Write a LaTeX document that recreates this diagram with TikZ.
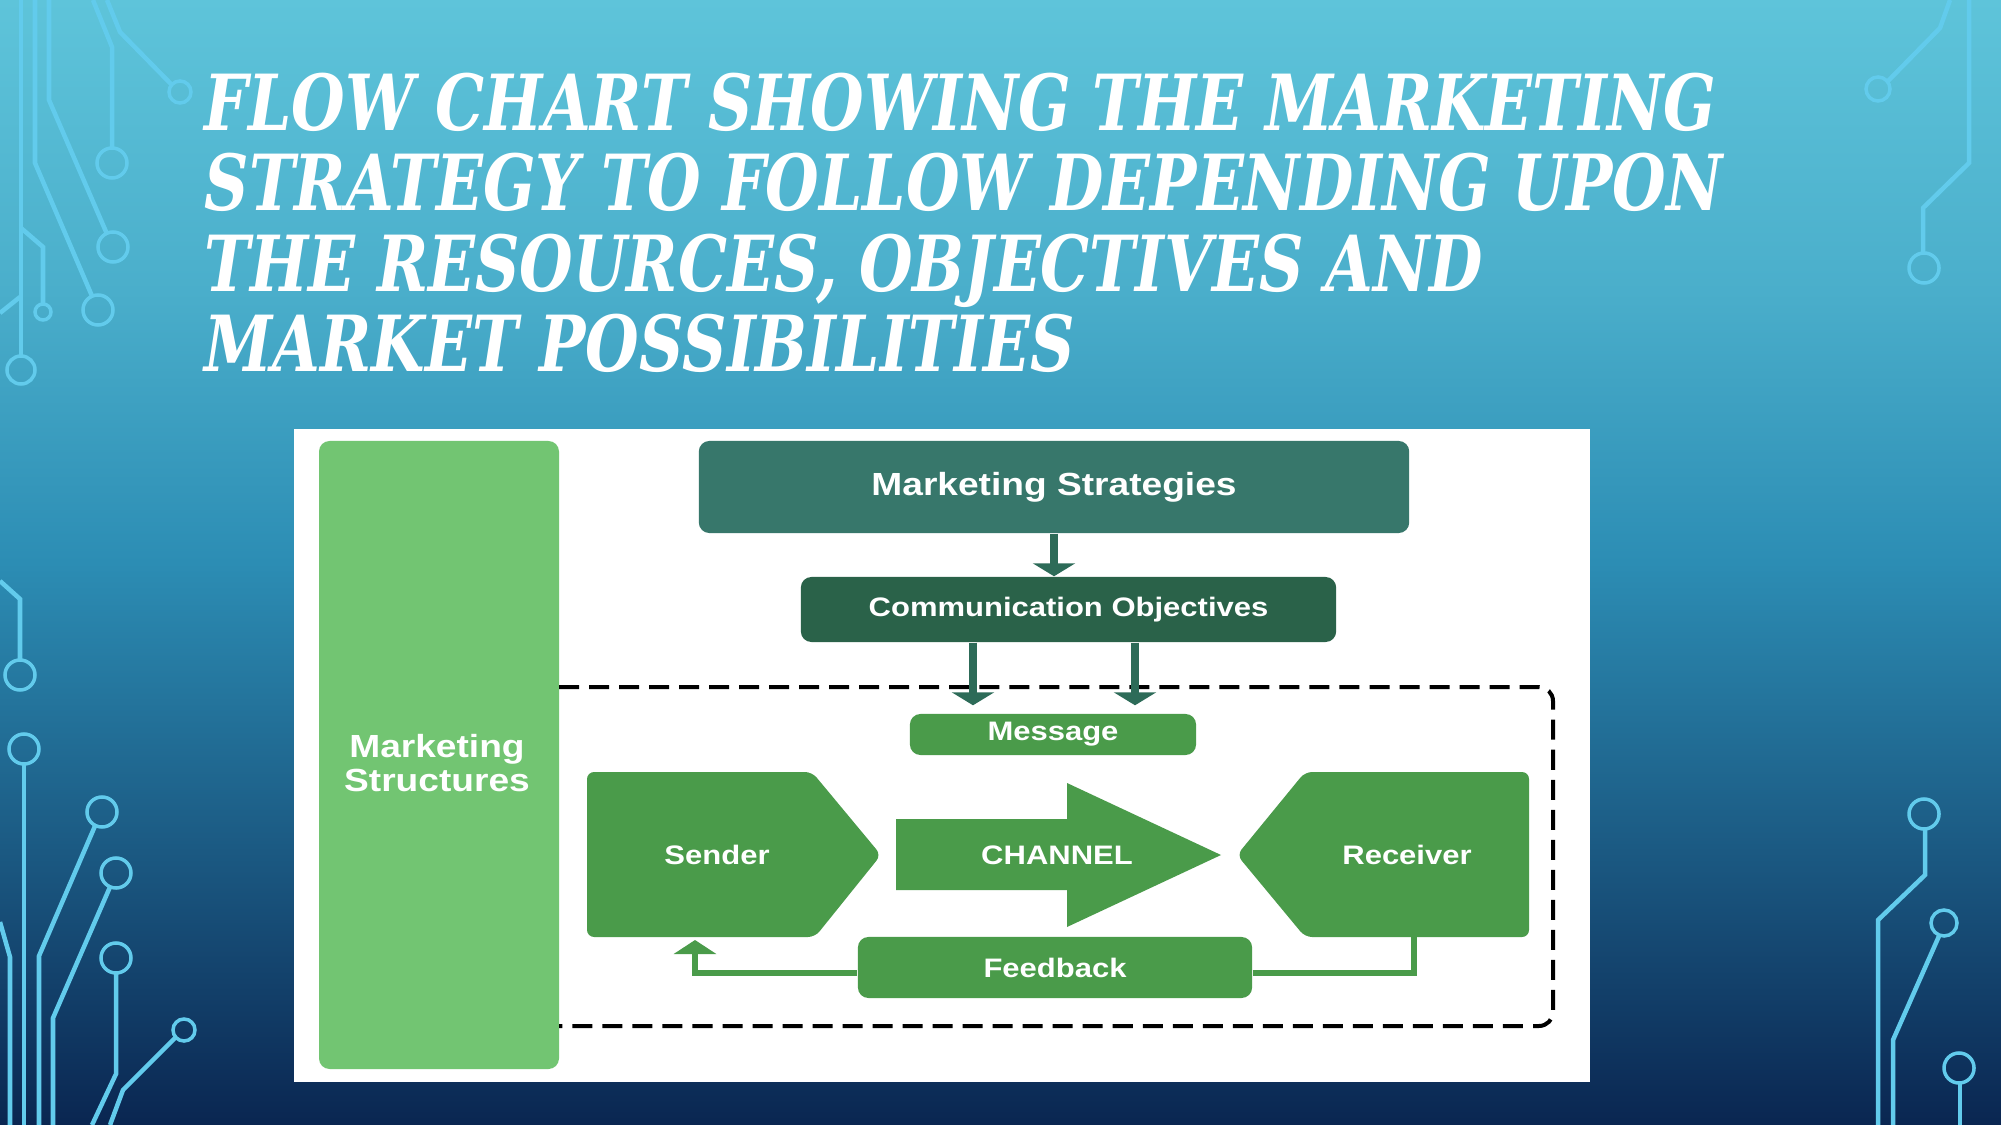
\documentclass[tikz,border=0pt]{standalone}
\usepackage{fontspec}
\usepackage{xcolor}
\usepackage{tikz}
\usetikzlibrary{arrows.meta}
\setmainfont{Liberation Sans}
\newfontfamily\boxFont[FakeStretch=1.16]{Liberation Sans}
\newfontfamily\titleFont[FakeStretch=0.796]{DejaVu Serif}
\definecolor{skyTop}{HTML}{5EC4DA}
\definecolor{skyMid}{HTML}{2C8DB4}
\definecolor{skyBottom}{HTML}{0A2651}
\definecolor{circuitColor}{HTML}{62CBEC}
\definecolor{strategyColor}{HTML}{37776B}
\definecolor{objectiveColor}{HTML}{2A6249}
\definecolor{arrowTeal}{HTML}{2D6B58}
\definecolor{flowGreen}{HTML}{4A9B4A}
\definecolor{structureGreen}{HTML}{72C572}
\pgfdeclareverticalshading{slideBg}{100bp}{color(0bp)=(skyBottom); color(25bp)=(skyBottom); color(36bp)=(skyBottom!55!skyMid); color(50bp)=(skyMid); color(62bp)=(skyMid!40!skyTop); color(75bp)=(skyTop); color(100bp)=(skyTop)}

\begin{document}
\begin{tikzpicture}[x=0.01cm, y=-0.01cm,
    circuit/.style={draw=circuitColor, line width=0.045cm},
    pad/.style={draw=circuitColor, line width=0.035cm},
    bigText/.style={text=white, font=\boxFont\bfseries\fontsize{9.1}{9.6}\selectfont},
    smallText/.style={text=white, font=\boxFont\bfseries\fontsize{7.6}{9}\selectfont},
    flowBox/.style={smallText, fill=flowGreen, rounded corners=3pt, inner sep=0pt},
    tealArrow/.style={arrowTeal, line width=0.08cm, -{Triangle[width=0.42cm, length=0.13cm]}},
    greenArrow/.style={flowGreen, line width=0.06cm, -{Triangle[width=0.42cm, length=0.14cm]}},
    greenLine/.style={flowGreen, line width=0.06cm},
    frameLine/.style={black, line width=0.04cm, dash pattern=on 0.2cm off 0.1cm, rounded corners=4pt}]
    \useasboundingbox (0,0) rectangle (2001,1125);
    \shade[shading=slideBg] (0,0) rectangle (2001,1125);

    \draw[circuit] (21,0) -- (21,356);
    \draw[pad] (21,370) circle[radius=0.14cm];
    \draw[circuit] (21,228) -- (43,247) -- (43,304);
    \draw[pad] (43,312) circle[radius=0.08cm];
    \draw[circuit] (0,313) -- (20,297);
    \draw[circuit] (35,0) -- (35,163) -- (92,296);
    \draw[pad] (98,310) circle[radius=0.15cm];
    \draw[circuit] (49,0) -- (49,100) -- (107,234);
    \draw[pad] (113,247) circle[radius=0.15cm];
    \draw[circuit] (93,0) -- (112,47) -- (112,148);
    \draw[pad] (112,163) circle[radius=0.15cm];
    \draw[circuit] (107,0) -- (120,32) -- (171,84);
    \draw[pad] (180,92) circle[radius=0.11cm];

    \draw[circuit] (0,581) -- (20,599) -- (20,660);
    \draw[pad] (20,675) circle[radius=0.15cm];
    \draw[pad] (24,749) circle[radius=0.15cm];
    \draw[circuit] (24,764) -- (24,1125);
    \draw[pad] (102,812) circle[radius=0.15cm];
    \draw[circuit] (95,826) -- (39,956) -- (39,1125);
    \draw[pad] (116,873) circle[radius=0.15cm];
    \draw[circuit] (110,887) -- (53,1018) -- (53,1125);
    \draw[pad] (116,958) circle[radius=0.15cm];
    \draw[circuit] (116,973) -- (116,1074) -- (92,1125);
    \draw[pad] (184,1030) circle[radius=0.11cm];
    \draw[circuit] (176,1037) -- (123,1090) -- (110,1125);
    \draw[circuit] (0,922) -- (10,957) -- (10,1125);

    \draw[circuit] (1950,0) -- (1940,28) -- (1887,82);
    \draw[pad] (1878,89) circle[radius=0.12cm];
    \draw[circuit] (1969,0) -- (1969,163) -- (1923,208) -- (1923,253);
    \draw[pad] (1924,268) circle[radius=0.15cm];
    \draw[pad] (1924,814) circle[radius=0.15cm];
    \draw[circuit] (1925,829) -- (1925,875) -- (1878,920) -- (1878,1125);
    \draw[pad] (1944,923) circle[radius=0.13cm];
    \draw[circuit] (1939,936) -- (1893,1040) -- (1893,1125);
    \draw[pad] (1959,1068) circle[radius=0.15cm];
    \draw[circuit] (1960,1083) -- (1960,1125);

    \node[anchor=north west, inner sep=0pt, align=left, text=white,
        font=\titleFont\bfseries\itshape\fontsize{22}{22.9}\selectfont] (title) at (204,72)
        {FLOW CHART SHOWING THE MARKETING\\STRATEGY TO FOLLOW DEPENDING UPON\\THE RESOURCES, OBJECTIVES AND\\MARKET POSSIBILITIES};

    \fill[white] (294,429) rectangle (1590,1082);

    \fill[structureGreen, rounded corners=3pt] (319,441) rectangle (559,1069);
    \node[bigText, align=center] (structures) at (437,763) {Marketing\\Structures};
    \draw[frameLine] (559,687) -- (1553,687) -- (1553,1026) -- (559,1026);

    \node[bigText, fill=strategyColor, rounded corners=3pt,
        minimum width=7.10cm, minimum height=0.92cm] (strategies) at (1054,487) {Marketing Strategies};
    \node[smallText, fill=objectiveColor, rounded corners=3pt,
        minimum width=5.35cm, minimum height=0.65cm] (objectives) at (1068.5,609.5) {Communication Objectives};
    \node[flowBox, minimum width=2.86cm, minimum height=0.41cm] (message) at (1053,734.5) {Message};
    \node[flowBox, minimum width=3.94cm, minimum height=0.61cm] (feedback) at (1055,967.5) {Feedback};

    \fill[flowGreen, rounded corners=2pt] (587,772) -- (812,772) -- (881,855) -- (815,937) -- (587,937) -- cycle;
    \node[smallText] (sender) at (717,855) {Sender};
    \fill[flowGreen] (896,819) -- (1067,819) -- (1067,783) -- (1221,855) -- (1067,927) -- (1067,890) -- (896,890) -- cycle;
    \node[smallText] (channel) at (1057,855) {CHANNEL};
    \fill[flowGreen, rounded corners=2pt] (1529,772) -- (1305,772) -- (1237,855) -- (1305,937) -- (1529,937) -- cycle;
    \node[smallText] (receiver) at (1407,855) {Receiver};
    \coordinate (senderFoot) at (695,940);
    \coordinate (receiverFoot) at (1414,937);

    \draw[tealArrow] (strategies.south) -- (strategies.south |- objectives.north);
    \draw[tealArrow, shorten >=0.08cm] (objectives.south -| 973,0) -- (message.north -| 973,0);
    \draw[tealArrow, shorten >=0.08cm] (objectives.south -| 1135,0) -- (message.north -| 1135,0);
    \draw[greenArrow] ([yshift=-0.055cm]feedback.west) -| (senderFoot);
    \draw[greenLine] ([yshift=-0.055cm]feedback.east) -| (receiverFoot);
\end{tikzpicture}
\end{document}
